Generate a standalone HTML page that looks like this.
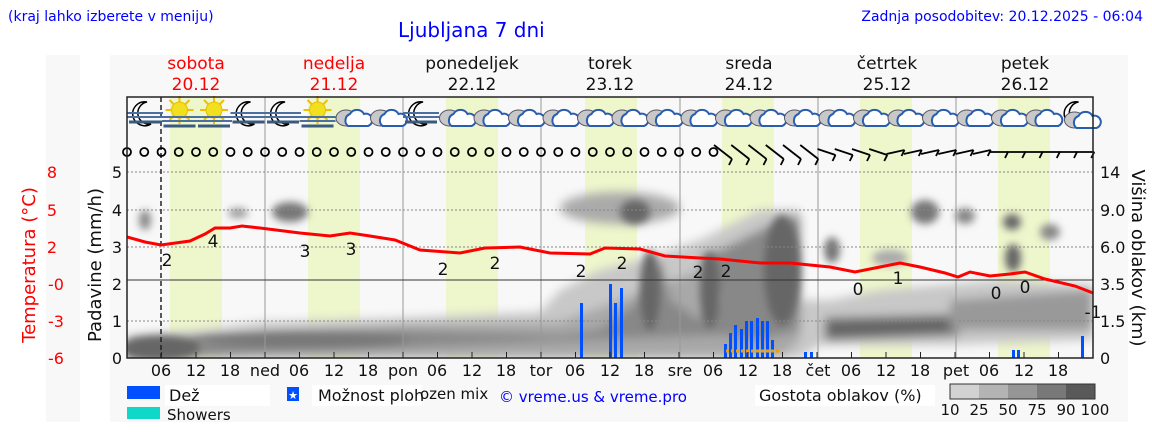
<!DOCTYPE html>
<html><head><meta charset="utf-8">
<style>
body{margin:0;background:#fff;width:1152px;height:443px;overflow:hidden;font-family:"Liberation Sans","DejaVu Sans",sans-serif}
svg{position:absolute;left:0;top:0}
</style></head><body>
<svg width="1152" height="443" viewBox="0 0 1152 443" xmlns="http://www.w3.org/2000/svg" font-family="DejaVu Sans, Liberation Sans, sans-serif">
<defs>
<filter id="b" x="-20%" y="-20%" width="140%" height="140%"><feGaussianBlur stdDeviation="5"/></filter>
<filter id="b2" x="-50%" y="-50%" width="200%" height="200%"><feGaussianBlur stdDeviation="4"/></filter>
<clipPath id="pc"><rect x="127" y="160" width="966" height="198"/></clipPath>
<g id="cl">
<ellipse cx="-6" cy="2" rx="10" ry="8" fill="#c8c8c8" stroke="#556" stroke-width="1"/>
<path d="M-4 10 a7 7 0 0 1 2-12 a8 8 0 0 1 14 0 a6 6 0 0 1 4 12 z" fill="#fff" stroke="#2a5db0" stroke-width="2"/>
</g>
<g id="mn"><path d="M2-12 a12 12 0 1 0 4 22 a10 10 0 1 1 -4-22z" fill="#fff" stroke="#000" stroke-width="1.5"/></g>
<g id="sn"><g stroke="#f0c000" stroke-width="2"><line x1="0" y1="-14" x2="0" y2="14"/><line x1="-14" y1="0" x2="14" y2="0"/><line x1="-10" y1="-10" x2="10" y2="10"/><line x1="-10" y1="10" x2="10" y2="-10"/></g><circle r="8" fill="#f2e020" stroke="#e8c000"/></g>
<g id="fg"><g stroke="#4a6fa0" stroke-width="2"><line x1="-18" y1="-3" x2="18" y2="-3"/><line x1="-18" y1="1" x2="18" y2="1"/></g><line x1="-16" y1="6" x2="16" y2="6" stroke="#3a5a80" stroke-width="3"/></g>
</defs>
<rect x="46" y="55" width="34" height="367" fill="#f8f8f8"/>
<rect x="110" y="55" width="1018" height="367" fill="#f8f8f8"/>
<rect x="127" y="97" width="966" height="261" fill="#f8f8f8"/>
<g fill="#eef6cc">
<rect x="170" y="97" width="52" height="261"/><rect x="308" y="97" width="52" height="261"/><rect x="446" y="97" width="52" height="261"/><rect x="585" y="97" width="52" height="261"/><rect x="722" y="97" width="52" height="261"/><rect x="860" y="97" width="52" height="261"/><rect x="998" y="97" width="52" height="261"/>
</g>
<!-- clouds -->
<g clip-path="url(#pc)">
<g filter="url(#b)">
<path d="M127 335 L200 330 L260 322 L400 318 L540 312 L560 290 L600 270 L640 260 L700 240 L760 210 L800 210 L800 300 L830 300 L880 290 L1000 280 L1093 285 L1093 340 L950 345 L820 345 L800 358 L127 358Z" fill="#c8c8c8"/>
<path d="M127 340 L210 335 L400 325 L560 322 L620 300 L700 270 L760 230 L800 215 L800 340 L780 358 L127 358Z" fill="#a8a8a8"/>
<path d="M127 345 L200 342 L270 332 L400 330 L560 335 L600 330 L640 300 L660 258 L670 300 L700 320 L720 300 L700 255 L720 250 L760 230 L800 215 L800 330 L760 340 L720 335 L127 358Z" fill="#888"/>
<path d="M825 318 L950 315 L960 335 L825 340Z" fill="#666"/>
<path d="M950 300 L1093 290 L1093 330 L950 330Z" fill="#999"/>
<ellipse cx="620" cy="208" rx="60" ry="16" fill="#aaa"/>
</g>
<g filter="url(#b2)" fill="#666">
<ellipse cx="160" cy="348" rx="40" ry="12"/>
<ellipse cx="300" cy="340" rx="110" ry="6" fill="#777"/>
<ellipse cx="650" cy="290" rx="10" ry="40"/>
<ellipse cx="710" cy="290" rx="10" ry="38"/>
<ellipse cx="782" cy="270" rx="18" ry="55"/>
<ellipse cx="635" cy="212" rx="15" ry="12"/>
<ellipse cx="290" cy="212" rx="18" ry="10" fill="#777"/>
<ellipse cx="238" cy="213" rx="10" ry="5" fill="#999"/>
<ellipse cx="145" cy="220" rx="6" ry="10" fill="#888"/>
<ellipse cx="832" cy="250" rx="8" ry="13" fill="#777"/>
<ellipse cx="925" cy="212" rx="14" ry="12" fill="#777"/>
<ellipse cx="965" cy="216" rx="10" ry="8" fill="#888"/>
<ellipse cx="1013" cy="258" rx="8" ry="14"/>
<ellipse cx="1012" cy="222" rx="9" ry="8"/>
<ellipse cx="1050" cy="232" rx="10" ry="8" fill="#888"/>
<ellipse cx="890" cy="258" rx="18" ry="8" fill="#aaa"/>
</g>
</g>
<!-- grid -->
<g stroke="#888" stroke-width="1" stroke-dasharray="2,2">
<line x1="127" y1="172" x2="1093" y2="172"/><line x1="127" y1="210" x2="1093" y2="210"/><line x1="127" y1="247" x2="1093" y2="247"/><line x1="127" y1="321" x2="1093" y2="321"/>
</g>
<g stroke="#999" stroke-width="1">
<line x1="265" y1="97" x2="265" y2="358"/><line x1="403" y1="97" x2="403" y2="358"/><line x1="541" y1="97" x2="541" y2="358"/><line x1="680" y1="97" x2="680" y2="358"/><line x1="818" y1="97" x2="818" y2="358"/><line x1="956" y1="97" x2="956" y2="358"/>
</g>
<line x1="127" y1="280" x2="1093" y2="280" stroke="#333"/>
<line x1="161" y1="97" x2="161" y2="358" stroke="#222" stroke-width="1.5" stroke-dasharray="5,3"/>
<!-- precip -->
<g fill="#0050ff">
<rect x="580" y="303" width="3" height="55"/><rect x="609" y="284" width="3" height="74"/><rect x="614" y="303" width="3" height="55"/><rect x="620" y="288" width="3" height="70"/>
<rect x="724" y="344" width="3" height="14"/><rect x="729" y="333" width="3" height="25"/><rect x="734" y="325" width="3" height="33"/><rect x="740" y="329" width="3" height="29"/><rect x="745" y="321" width="3" height="37"/><rect x="750" y="321" width="3" height="37"/><rect x="756" y="318" width="3" height="40"/><rect x="761" y="321" width="3" height="37"/><rect x="766" y="321" width="3" height="37"/><rect x="771" y="340" width="3" height="18"/>
<rect x="804" y="352" width="3" height="6"/><rect x="810" y="352" width="3" height="6"/>
<rect x="1012" y="350" width="3" height="8"/><rect x="1017" y="350" width="3" height="8"/><rect x="1081" y="336" width="3" height="22"/>
</g>
<line x1="726" y1="351" x2="781" y2="351" stroke="#f0a000" stroke-width="3" stroke-dasharray="3,2"/>
<!-- temperature -->
<polyline fill="none" stroke="#ff0000" stroke-width="3" points="127,237 145,242 161,245 190,241 205,234 215,228 230,228 242,226 260,228 300,233 330,236 350,233 370,236 395,240 420,250 460,253 485,248 520,247 550,253 590,254 605,248 640,249 665,256 700,258 720,259 760,263 790,263 830,267 855,272 880,267 900,263 920,267 945,273 958,277 970,272 990,276 1010,274 1025,272 1045,279 1075,286 1093,293"/>
<g font-size="17" fill="#111" text-anchor="middle">
<text x="167" y="266">2</text><text x="213" y="247">4</text><text x="305" y="257">3</text><text x="351" y="255">3</text><text x="443" y="275">2</text><text x="495" y="269">2</text><text x="581" y="277">2</text><text x="622" y="269">2</text><text x="698" y="278">2</text><text x="726" y="277">2</text><text x="858" y="295">0</text><text x="898" y="284">1</text><text x="996" y="299">0</text><text x="1025" y="293">0</text><text x="1093" y="318">-1</text>
</g>
<!-- icons -->
<g id="icons"></g>
<g id="dots" fill="none" stroke="#000" stroke-width="1.8"></g>
<g id="barbs" stroke="#000" stroke-width="1.8"></g>
<rect x="127" y="97" width="966" height="261" fill="none" stroke="#222" stroke-width="1.5"/>
<g id="ticks" stroke="#222"></g>
<!-- axis labels -->
<g font-size="16" fill="#111" text-anchor="end">
<text x="122" y="178">5</text><text x="122" y="216">4</text><text x="122" y="253">3</text><text x="122" y="290">2</text><text x="122" y="327">1</text><text x="122" y="364">0</text>
</g>
<g font-size="16" fill="#ff0000" text-anchor="middle">
<text x="52" y="178">8</text><text x="52" y="216">5</text><text x="52" y="253">2</text><text x="56" y="290">-0</text><text x="56" y="327">-3</text><text x="56" y="364">-6</text>
</g>
<g font-size="16" fill="#111" text-anchor="start">
<text x="1100" y="178">14</text><text x="1100" y="216">9.0</text><text x="1100" y="253">6.0</text><text x="1100" y="290">3.5</text><text x="1100" y="327">1.5</text><text x="1100" y="364">0</text>
</g>
<text transform="translate(35,265) rotate(-90)" font-size="18" fill="#ff0000" text-anchor="middle">Temperatura (°C)</text>
<text transform="translate(101,265) rotate(-90)" font-size="18" fill="#111" text-anchor="middle">Padavine (mm/h)</text>
<text transform="translate(1132,258) rotate(90)" font-size="18" fill="#111" text-anchor="middle">Višina oblakov (km)</text>
<g font-size="16" fill="#111" text-anchor="middle">
<text x="161" y="376">06</text><text x="196" y="376">12</text><text x="230" y="376">18</text>
<text x="265" y="376">ned</text><text x="299" y="376">06</text><text x="334" y="376">12</text><text x="368" y="376">18</text>
<text x="403" y="376">pon</text><text x="437" y="376">06</text><text x="472" y="376">12</text><text x="506" y="376">18</text>
<text x="541" y="376">tor</text><text x="575" y="376">06</text><text x="610" y="376">12</text><text x="644" y="376">18</text>
<text x="680" y="376">sre</text><text x="713" y="376">06</text><text x="748" y="376">12</text><text x="782" y="376">18</text>
<text x="818" y="376">čet</text><text x="851" y="376">06</text><text x="886" y="376">12</text><text x="920" y="376">18</text>
<text x="956" y="376">pet</text><text x="989" y="376">06</text><text x="1024" y="376">12</text><text x="1058" y="376">18</text>
</g>
<!-- header -->
<text x="8" y="21" font-size="14" fill="#0000ff">(kraj lahko izberete v meniju)</text>
<text x="398" y="37" font-size="20" fill="#0000ff">Ljubljana 7 dni</text>
<text x="1143" y="21" font-size="14" fill="#0000ff" text-anchor="end">Zadnja posodobitev: 20.12.2025 - 06:04</text>
<g font-size="17" text-anchor="middle">
<text x="196" y="69" fill="#ff0000">sobota</text><text x="196" y="90" fill="#ff0000">20.12</text>
<text x="334" y="69" fill="#ff0000">nedelja</text><text x="334" y="90" fill="#ff0000">21.12</text>
<text x="472" y="69" fill="#111">ponedeljek</text><text x="472" y="90" fill="#111">22.12</text>
<text x="610" y="69" fill="#111">torek</text><text x="610" y="90" fill="#111">23.12</text>
<text x="749" y="69" fill="#111">sreda</text><text x="749" y="90" fill="#111">24.12</text>
<text x="887" y="69" fill="#111">četrtek</text><text x="887" y="90" fill="#111">25.12</text>
<text x="1025" y="69" fill="#111">petek</text><text x="1025" y="90" fill="#111">26.12</text>
</g>
<!-- legend -->
<rect x="127" y="386" width="33" height="13" fill="#0050ff"/>
<rect x="165" y="385" width="105" height="21" fill="#fff"/>
<text x="169" y="401" font-size="16" fill="#111">Dež</text>
<rect x="127" y="407" width="33" height="12" fill="#10d8c8"/>
<text x="167" y="420" font-size="15" fill="#111">Showers</text>
<rect x="287" y="387" width="12" height="14" fill="#0050ff"/><text x="293" y="399" font-size="11" fill="#fff" text-anchor="middle">★</text>
<rect x="312" y="385" width="110" height="21" fill="#fff"/>
<text x="318" y="401" font-size="16" fill="#111">Možnost ploh</text>
<text x="420" y="399" font-size="15" fill="#111">ozen mix</text>
<text x="499" y="402" font-size="15" fill="#0000ff">© vreme.us &amp; vreme.pro</text>
<rect x="755" y="385" width="180" height="21" fill="#fff"/>
<text x="759" y="401" font-size="16" fill="#111">Gostota oblakov (%)</text>
<rect x="950" y="384" width="29" height="15" fill="#d2d2d2"/><rect x="979" y="384" width="29" height="15" fill="#b4b4b4"/><rect x="1008" y="384" width="29" height="15" fill="#969696"/><rect x="1037" y="384" width="29" height="15" fill="#787878"/><rect x="1066" y="384" width="29" height="15" fill="#595959"/>
<rect x="950" y="384" width="145" height="15" fill="none" stroke="#333"/>
<g font-size="15" fill="#111" text-anchor="middle"><text x="950" y="415">10</text><text x="979" y="415">25</text><text x="1008" y="415">50</text><text x="1037" y="415">75</text><text x="1066" y="415">90</text><text x="1095" y="415">100</text></g>
</svg>
<script>
var NS="http://www.w3.org/2000/svg";
function el(p,t,a){var e=document.createElementNS(NS,t);for(var k in a)e.setAttribute(k,a[k]);document.getElementById(p).appendChild(e);return e;}
var types="MSSMMSCCMCCCCCCCCCCCCCCCCCCM";
for(var i=0;i<28;i++){var x=145+i*34.5,y=116,t=types[i];
 if(t=='M'){el('icons','use',{href:'#mn',x:x,y:y-2});if(i<9)el('icons','use',{href:'#fg',x:x,y:y});else el('icons','use',{href:'#cl',x:x+4,y:y+2});}
 else if(t=='S'){el('icons','use',{href:'#sn',x:x,y:y-6});el('icons','use',{href:'#fg',x:x,y:y+4});}
 else el('icons','use',{href:'#cl',x:x,y:y});}
for(var i=0;i<35;i++)el('dots','circle',{cx:127+i*17.25,cy:152,r:4});
for(var i=0;i<22;i++){var x=722+i*17.25,dy=i<6?14:(i<10?6:(i<16?-4:0)),y=152;
 el('barbs','line',{x1:x-8,y1:y-dy/2,x2:x+10,y2:y+dy/2});el('barbs','line',{x1:x+10,y1:y+dy/2,x2:x+7,y2:y+dy/2+6});}
for(var i=1;i<28;i++){var x=127+i*34.5;el('ticks','line',{x1:x,y1:358,x2:x,y2:352});}
</script>
</body></html>
